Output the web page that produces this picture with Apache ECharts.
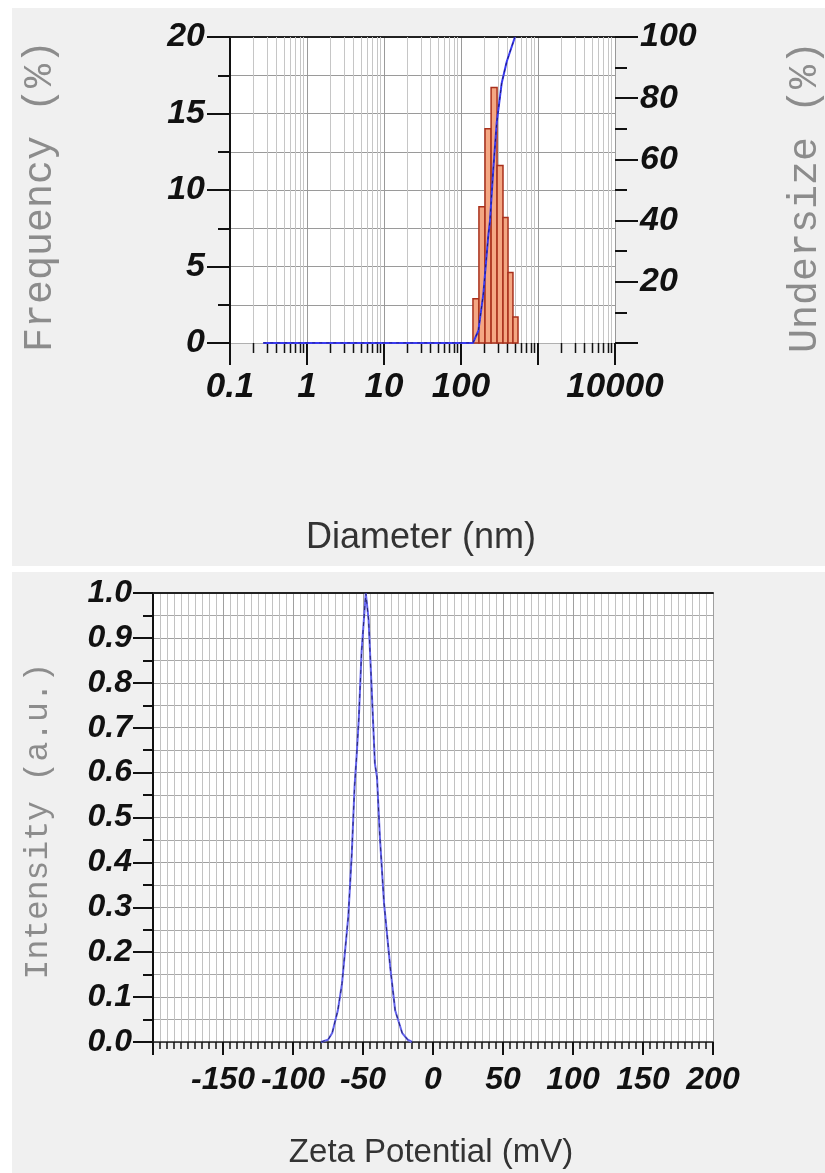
<!DOCTYPE html>
<html>
<head>
<meta charset="utf-8">
<script src="https://cdn.jsdelivr.net/npm/echarts@6/dist/echarts.min.js"></script>
<style>
  html, body { margin: 0; padding: 0; background: #ffffff; }
  #chart { width: 825px; height: 1173px; }
</style>
</head>
<body>
<div id="chart"></div>
<script>
// ---------- Top panel: size distribution ----------
const diameterBinEdges = [143, 171, 205, 246, 294, 351, 408, 473, 550];   // nm
const frequency = [2.9, 8.9, 14.0, 16.7, 11.6, 8.2, 4.6, 1.7];            // %
const undersizeDiameter = [0.27, 143, 168, 195, 226, 238, 263, 291, 338, 393, 502];
const undersize = [0, 0, 4, 16, 35, 40, 57, 72, 85, 92, 100];             // %
const diameterLabels = ['0.1', '1', '10', '100', '', '10000'];
const logDecades = [0.1, 1, 10, 100, 1000];
const logMinorMultipliers = [2, 3, 4, 5, 6, 7, 8, 9];

// ---------- Bottom panel: zeta potential ----------
const zeta = [-80, -75, -72, -68, -65, -60.5, -58, -56, -54.5, -53, -51, -48, -46, -44, -41.5, -40, -38, -35, -30.5, -27, -22, -18, -15];
const intensity = [0, 0.005, 0.02, 0.07, 0.13, 0.28, 0.42, 0.57, 0.64, 0.72, 0.87, 1.0, 0.94, 0.8, 0.62, 0.59, 0.46, 0.31, 0.165, 0.07, 0.02, 0.005, 0];

const logMinorValues = [];
logDecades.forEach(d => logMinorMultipliers.forEach(m => logMinorValues.push(+(d * m).toPrecision(3))));

const tickFont = { fontFamily: 'Liberation Sans', fontWeight: 'bold', fontStyle: 'italic', color: '#111' };

const chart = echarts.init(document.getElementById('chart'), null, { renderer: 'canvas' });

const option = {
  backgroundColor: '#ffffff',
  animation: false,
  graphic: [
    { type: 'rect', z: -100, shape: { x: 12, y: 8, width: 813, height: 558 }, style: { fill: '#f0f0f0' } },
    { type: 'rect', z: -100, shape: { x: 12, y: 572, width: 813, height: 601 }, style: { fill: '#f0f0f0' } },
    { type: 'text', z: 100, x: 40, y: 196, rotation: Math.PI / 2,
      style: { text: 'Frequency (%)', font: '40px "Liberation Mono"', fill: '#8c8c8c', textAlign: 'center', textVerticalAlign: 'middle' } },
    { type: 'text', z: 100, x: 805, y: 197, rotation: Math.PI / 2,
      style: { text: 'Undersize (%)', font: '40px "Liberation Mono"', fill: '#8c8c8c', textAlign: 'center', textVerticalAlign: 'middle' } },
    { type: 'text', z: 100, x: 421, y: 538,
      style: { text: 'Diameter (nm)', font: '36px "Liberation Sans"', fill: '#333', textAlign: 'center', textVerticalAlign: 'middle' } },
    { type: 'text', z: 100, x: 38, y: 821, rotation: Math.PI / 2,
      style: { text: 'Intensity (a.u.)', font: '33px "Liberation Mono"', fill: '#8c8c8c', textAlign: 'center', textVerticalAlign: 'middle' } },
    { type: 'text', z: 100, x: 431, y: 1153,
      style: { text: 'Zeta Potential (mV)', font: '33px "Liberation Sans"', fill: '#333', textAlign: 'center', textVerticalAlign: 'middle' } }
  ],
  grid: [
    { left: 230, top: 37, width: 385, height: 306, show: true, backgroundColor: '#ffffff', borderWidth: 0 },
    { left: 153, top: 593, width: 560, height: 449, show: true, backgroundColor: '#ffffff', borderWidth: 0 }
  ],
  xAxis: [
    { type: 'log', gridIndex: 0, logBase: 10, min: 0.1, max: 10000,
      axisLine: { show: true, onZero: false, lineStyle: { color: '#b0b0b0', width: 1 } },
      axisTick: { show: true, length: 22, lineStyle: { color: '#111', width: 2 } },
      axisLabel: Object.assign({ fontSize: 35, margin: 27, formatter: (v) => {
        const idx = [0.1, 1, 10, 100, 1000, 10000].findIndex(t => Math.abs(Math.log10(t) - Math.log10(v)) < 1e-6);
        return idx >= 0 ? diameterLabels[idx] : '';
      } }, tickFont),
      splitLine: { show: true, lineStyle: { color: '#9a9a9a', width: 1 } }
    },
    { type: 'value', gridIndex: 0, position: 'top', min: 0, max: 1,
      axisLine: { show: true, onZero: false, lineStyle: { color: '#222', width: 2 } },
      axisTick: { show: false }, axisLabel: { show: false }, splitLine: { show: false } },
    { type: 'value', gridIndex: 1, min: -200, max: 200, interval: 50,
      axisLine: { show: true, onZero: false, lineStyle: { color: '#222', width: 1.5 } },
      axisTick: { show: true, length: 13, lineStyle: { color: '#111', width: 2 } },
      minorTick: { show: true, splitNumber: 10, length: 7, lineStyle: { color: '#111', width: 1.5 } },
      axisLabel: Object.assign({ fontSize: 32, margin: 22, formatter: (v) => v === -200 ? '' : String(v) }, tickFont),
      splitLine: { show: true, lineStyle: { color: '#a0a0a0', width: 1 } },
      minorSplitLine: { show: true, lineStyle: { color: '#c2c2c2', width: 1 } }
    },
    { type: 'value', gridIndex: 1, position: 'top', min: 0, max: 1,
      axisLine: { show: true, onZero: false, lineStyle: { color: '#222', width: 2 } },
      axisTick: { show: false }, axisLabel: { show: false }, splitLine: { show: false } }
  ],
  yAxis: [
    { type: 'value', gridIndex: 0, min: 0, max: 20, interval: 5, position: 'left',
      axisLine: { show: true, onZero: false, lineStyle: { color: '#111', width: 2 } },
      axisTick: { show: true, length: 23, lineStyle: { color: '#111', width: 2 } },
      minorTick: { show: true, splitNumber: 2, length: 12, lineStyle: { color: '#111', width: 2 } },
      axisLabel: Object.assign({ fontSize: 34, margin: 25 }, tickFont),
      splitLine: { show: true, lineStyle: { color: '#9a9a9a', width: 1 } },
      minorSplitLine: { show: true, lineStyle: { color: '#9a9a9a', width: 1 } }
    },
    { type: 'value', gridIndex: 0, min: 0, max: 100, interval: 20, position: 'right',
      axisLine: { show: true, onZero: false, lineStyle: { color: '#999', width: 1 } },
      axisTick: { show: true, length: 23, lineStyle: { color: '#111', width: 2 } },
      minorTick: { show: true, splitNumber: 2, length: 12, lineStyle: { color: '#111', width: 2 } },
      axisLabel: Object.assign({ fontSize: 34, margin: 25, formatter: (v) => v === 0 ? '' : String(v) }, tickFont),
      splitLine: { show: false }
    },
    { type: 'value', gridIndex: 1, min: 0, max: 1, interval: 0.1, position: 'left',
      axisLine: { show: true, onZero: false, lineStyle: { color: '#111', width: 2 } },
      axisTick: { show: true, length: 20, lineStyle: { color: '#111', width: 2 } },
      minorTick: { show: true, splitNumber: 2, length: 10, lineStyle: { color: '#111', width: 2 } },
      axisLabel: Object.assign({ fontSize: 32, margin: 21, formatter: (v) => v.toFixed(1) }, tickFont),
      splitLine: { show: true, lineStyle: { color: '#a0a0a0', width: 1 } },
      minorSplitLine: { show: true, lineStyle: { color: '#a8a8a8', width: 1 } }
    }
  ],
  series: [
    { // log minor grid lines and ticks
      type: 'custom', xAxisIndex: 0, yAxisIndex: 0, z: 1, clip: false, silent: true,
      data: logMinorValues.map(v => [v]),
      renderItem: (params, api) => {
        const v = api.value(0);
        const top = api.coord([v, 20]);
        const bot = api.coord([v, 0]);
        const x = Math.round(bot[0]) + 0.5;
        return { type: 'group', children: [
          { type: 'line', shape: { x1: x, y1: top[1], x2: x, y2: bot[1] }, style: { stroke: '#c6c6c6', lineWidth: 1 } },
          { type: 'line', shape: { x1: x, y1: bot[1], x2: x, y2: bot[1] + 10 }, style: { stroke: '#111', lineWidth: 1.5 } }
        ] };
      }
    },
    { // histogram
      type: 'custom', xAxisIndex: 0, yAxisIndex: 0, z: 3, silent: true,
      data: frequency.map((f, i) => [diameterBinEdges[i], diameterBinEdges[i + 1], f]),
      renderItem: (params, api) => {
        const p0 = api.coord([api.value(0), api.value(2)]);
        const p1 = api.coord([api.value(1), 0]);
        return { type: 'rect', shape: { x: p0[0], y: p0[1], width: p1[0] - p0[0], height: p1[1] - p0[1] },
          style: { fill: '#f4a783', stroke: '#a9301c', lineWidth: 1.5 } };
      }
    },
    { type: 'line', xAxisIndex: 0, yAxisIndex: 1, z: 5, symbol: 'none', silent: true,
      data: undersizeDiameter.map((d, i) => [d, undersize[i]]),
      lineStyle: { color: '#3a3af0', width: 2 } },
    { type: 'line', xAxisIndex: 0, yAxisIndex: 1, z: 6, symbol: 'none', silent: true,
      data: undersizeDiameter.map((d, i) => [d, undersize[i]]),
      lineStyle: { color: '#1c1c78', width: 1, type: [3, 4] } },
    { type: 'line', xAxisIndex: 2, yAxisIndex: 2, z: 5, symbol: 'none', silent: true,
      data: zeta.map((z, i) => [z, intensity[i]]),
      lineStyle: { color: '#6464ee', width: 2 } },
    { type: 'line', xAxisIndex: 2, yAxisIndex: 2, z: 6, symbol: 'none', silent: true,
      data: zeta.map((z, i) => [z, intensity[i]]),
      lineStyle: { color: '#26266e', width: 1, type: [4, 4] } }
  ]
};
chart.setOption(option);
</script>
</body>
</html>
